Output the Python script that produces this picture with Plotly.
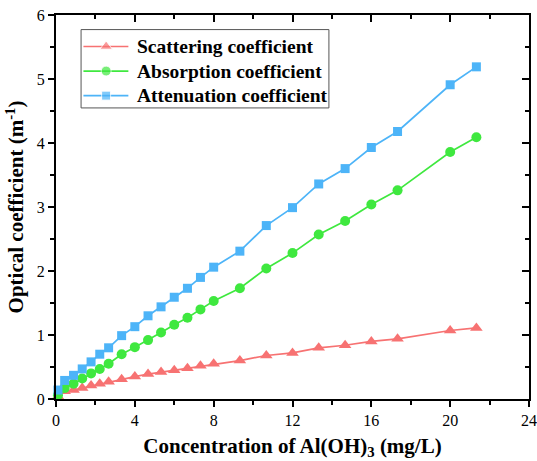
import plotly.graph_objects as go

conc = [0.1, 0.44, 0.89, 1.33, 1.78, 2.22, 2.67, 3.33, 4.0, 4.67, 5.33, 6.0, 6.67,
        7.33, 8.0, 9.33, 10.67, 12.0, 13.33, 14.67, 16.0, 17.33, 20.0, 21.33]
scattering = [0.04, 0.12, 0.14, 0.17, 0.21, 0.24, 0.27, 0.31, 0.35, 0.39, 0.42, 0.45,
              0.48, 0.52, 0.55, 0.60, 0.68, 0.72, 0.80, 0.84, 0.90, 0.94, 1.07, 1.11]
absorption = [0.06, 0.17, 0.24, 0.32, 0.40, 0.47, 0.55, 0.70, 0.81, 0.92, 1.04, 1.16,
              1.27, 1.40, 1.53, 1.73, 2.04, 2.28, 2.57, 2.78, 3.04, 3.26, 3.86, 4.09]
attenuation = [0.14, 0.29, 0.37, 0.47, 0.58, 0.70, 0.80, 0.99, 1.13, 1.30, 1.44, 1.59,
               1.73, 1.90, 2.06, 2.31, 2.71, 2.99, 3.36, 3.60, 3.93, 4.18, 4.91, 5.19]

x_ticks = [0, 4, 8, 12, 16, 20, 24]
x_minor = [2, 6, 10, 14, 18, 22]
y_ticks = [0, 1, 2, 3, 4, 5, 6]
y_minor = [0.5, 1.5, 2.5, 3.5, 4.5, 5.5]

names = ["Scattering coefficient", "Absorption coefficient", "Attenuation coefficient"]
colors = ["#F77272", "#3FE83F", "#4DB4F8"]
symbols = ["triangle-up", "circle", "square"]
sizes = [11, 10, 9]

FONT = "Liberation Serif, Times New Roman, serif"

fig = go.Figure()
for name, ys, c, s, sz in zip(names, [scattering, absorption, attenuation], colors, symbols, sizes):
    fig.add_trace(go.Scatter(
        x=conc, y=ys, name=name, mode="lines+markers",
        line=dict(color=c, width=1.7),
        marker=dict(symbol=s, size=sz, color=c),
        cliponaxis=False, showlegend=False,
    ))

# invisible trace to activate the mirrored (top/right) axes
fig.add_trace(go.Scatter(x=[0], y=[0], xaxis="x2", yaxis="y2", showlegend=False,
                         mode="markers", marker=dict(opacity=0), hoverinfo="skip"))

# legend drawn in a box (paper fractions of the plot area)
leg_x0, leg_x1, leg_y0, leg_y1 = 0.053, 0.577, 0.758, 0.962
row_y = [0.918, 0.854, 0.790]
line_x = [0.058, 0.106, 0.153]
fig.add_shape(type="rect", xref="paper", yref="paper", x0=leg_x0, x1=leg_x1, y0=leg_y0, y1=leg_y1,
              line=dict(color="#555555", width=1), fillcolor="white", layer="below")
for name, c, s, sz, ry in zip(names, colors, symbols, sizes, row_y):
    fig.add_trace(go.Scatter(
        x=line_x, y=[ry] * 3, xaxis="x3", yaxis="y3", mode="lines+markers",
        line=dict(color=c, width=1.7),
        marker=dict(symbol=s, size=[0, sz, 0], color=c),
        showlegend=False, hoverinfo="skip", cliponaxis=False,
    ))
    fig.add_annotation(xref="paper", yref="paper", x=0.166, y=ry, text=f"<b>{name}</b>",
                       showarrow=False, xanchor="left", yanchor="middle",
                       font=dict(family=FONT, size=19.5, color="black"))

axis_common = dict(showline=True, linecolor="black", linewidth=2, showgrid=False,
                   zeroline=False, tickcolor="black", tickwidth=1.5, automargin=False)

fig.update_layout(
    width=537, height=461,
    margin=dict(l=56, r=8, t=15, b=62),
    plot_bgcolor="white", paper_bgcolor="white",
    font=dict(family=FONT, size=16, color="black"),
    xaxis=dict(range=[0, 24], tickvals=x_ticks, ticks="outside", ticklen=6,
               minor=dict(tickvals=x_minor, ticks="outside", ticklen=4,
                          tickcolor="black", tickwidth=1.5),
               title=dict(text="<b>Concentration of Al(OH)<sub>3</sub> (mg/L)</b>",
                          font=dict(size=21), standoff=10),
               tickfont=dict(size=16), **axis_common),
    yaxis=dict(range=[0, 6], tickvals=y_ticks, ticks="outside", ticklen=6,
               minor=dict(tickvals=y_minor, ticks="outside", ticklen=4,
                          tickcolor="black", tickwidth=1.5),
               title=dict(text="<b>Optical coefficient (m<sup>-1</sup>)</b>",
                          font=dict(size=21), standoff=7),
               tickfont=dict(size=16), **axis_common),
    xaxis2=dict(range=[0, 24], overlaying="x", side="top", tickvals=x_ticks,
                ticks="inside", ticklen=7, showticklabels=False,
                minor=dict(tickvals=x_minor, ticks="inside", ticklen=4,
                           tickcolor="black", tickwidth=1.5),
                **axis_common),
    yaxis2=dict(range=[0, 6], overlaying="y", side="right", tickvals=y_ticks,
                ticks="inside", ticklen=7, showticklabels=False,
                minor=dict(tickvals=y_minor, ticks="inside", ticklen=4,
                           tickcolor="black", tickwidth=1.5),
                **axis_common),
    xaxis3=dict(range=[0, 1], overlaying="x", visible=False, automargin=False),
    yaxis3=dict(range=[0, 1], overlaying="y", visible=False, automargin=False),
    showlegend=False,
)

fig.write_html("out.html", config={"displayModeBar": False},
               post_script="document.body.style.margin='0';")
